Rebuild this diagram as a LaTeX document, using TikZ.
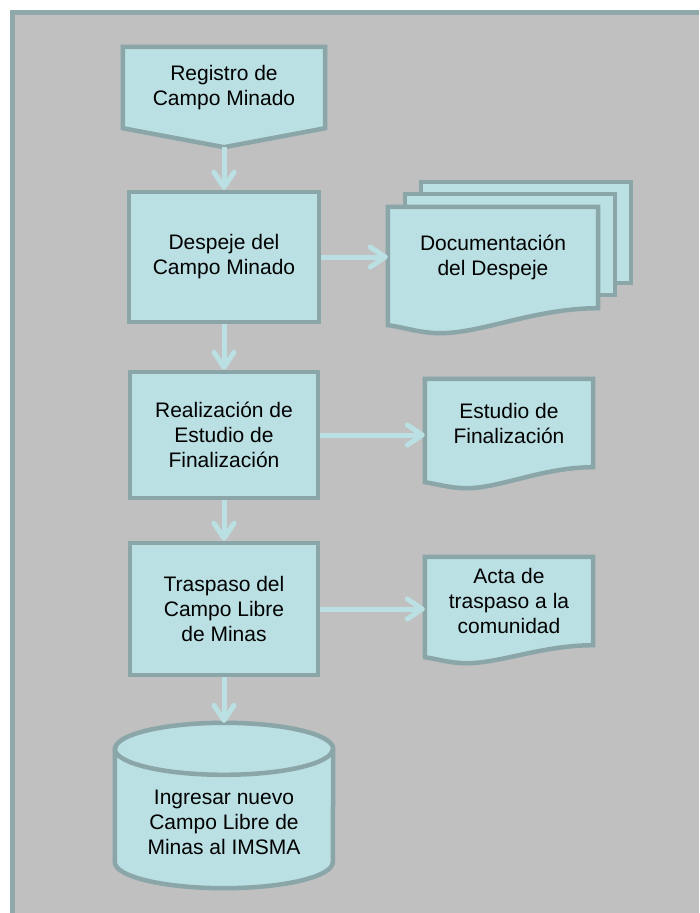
\documentclass[tikz,border=0pt]{standalone}
\usepackage{fontspec}
\setmainfont{Liberation Sans}
\usetikzlibrary{arrows.meta,backgrounds}

\definecolor{fondo}{HTML}{C0C0C0}
\definecolor{marco}{HTML}{8FA8AA}
\definecolor{borde}{HTML}{8BA6A8}
\definecolor{relleno}{HTML}{BAE0E3}

% hoja con borde ondulado: nodo, ancho, bajada minima, bajada izquierda
\newcommand{\hojadoc}[4]{%
	\filldraw[forma] (#1.north west) -- (#1.north east) -- (#1.south east)
		.. controls +({-0.3*#2},0) and +({0.2*#2},0) .. ([shift={({0.25*#2},-#3)}]#1.south west)
		.. controls +({-0.1*#2},0) and +({0.08*#2},-2) .. ([yshift=-#4pt]#1.south west) -- cycle;}

\begin{document}
\begin{tikzpicture}[x=1pt,y=1pt,
	caja/.style={draw=borde, fill=relleno, line width=4.5pt, align=center, inner sep=0pt,
		font=\fontsize{21}{25}\selectfont},
	texto/.style={align=center, inner sep=0pt, font=\fontsize{21}{25}\selectfont},
	forma/.style={draw=borde, fill=relleno, line width=4.5pt},
	flecha/.style={draw=relleno, line width=5pt, -{Straight Barb[length=15pt,width=20pt,round]}}]

	\useasboundingbox (0,0) rectangle (699,-913);

	% columna principal
	\node[texto, minimum width=202pt, minimum height=81pt] (registro) at (224,-87.5) {Registro de\\Campo Minado};
	\coordinate (puntaregistro) at ([yshift=-19pt]registro.south);
	\node[caja, minimum width=190pt, minimum height=130pt] (despeje) at (224,-257) {Despeje del\\Campo Minado};
	\node[caja, minimum width=188pt, minimum height=126pt] (realizacion) at (224,-435) {Realización de\\Estudio de\\Finalización};
	\node[caja, minimum width=188pt, minimum height=132pt] (traspaso) at (224,-609) {Traspaso del\\Campo Libre\\de Minas};
	\node[inner sep=0pt, minimum width=218pt, minimum height=165pt] (cilindro) at (224,-805.5) {};
	\node[texto] (ingreso) at (224,-822) {Ingresar nuevo\\Campo Libre de\\Minas al IMSMA};

	% documentos
	\node[texto, minimum width=210pt, minimum height=101pt] (documentacion) at (493,-257.5) {Documentación\\del Despeje};
	\node[texto, minimum width=168pt, minimum height=88pt] (estudio) at (509,-423) {Estudio de\\Finalización};
	\node[texto, minimum width=168pt, minimum height=88pt] (acta) at (509,-601) {Acta de\\traspaso a la\\comunidad};

	\begin{pgfonlayer}{background}
		\fill[fondo] (10,-10) rectangle (699,-913);
		\draw[marco, line width=5pt] (12.5,-913) -- (12.5,-12.5) -- (699,-12.5);

		\filldraw[forma] (registro.north west) -- (registro.north east) -- (registro.south east)
			-- (puntaregistro) -- (registro.south west) -- cycle;

		\filldraw[forma] ([shift={(33,25)}]documentacion.south west) rectangle ([shift={(33,25)}]documentacion.north east);
		\filldraw[forma] ([shift={(17,13)}]documentacion.south west) rectangle ([shift={(17,13)}]documentacion.north east);
		\hojadoc{documentacion}{210}{25}{17}
		\hojadoc{estudio}{168}{21}{15}
		\hojadoc{acta}{168}{18}{12}

		\filldraw[forma] ([yshift=-26pt]cilindro.north west) -- ([yshift=26pt]cilindro.south west)
			arc[start angle=180, end angle=360, x radius=109pt, y radius=26pt]
			-- ([yshift=-26pt]cilindro.north east)
			arc[start angle=0, end angle=180, x radius=109pt, y radius=26pt] -- cycle;
		\draw[forma, fill=none] ([yshift=-26pt]cilindro.north west)
			arc[start angle=180, end angle=360, x radius=109pt, y radius=26pt];
	\end{pgfonlayer}

	% flechas
	\draw[flecha] (puntaregistro) -- (despeje.north);
	\draw[flecha] (despeje.south) -- (realizacion.north);
	\draw[flecha] (realizacion.south) -- (traspaso.north);
	\draw[flecha] (traspaso.south) -- (cilindro.north);
	\draw[flecha] (despeje.east) -- (despeje.east -| documentacion.west);
	\draw[flecha] (realizacion.east) -- (realizacion.east -| estudio.west);
	\draw[flecha] (traspaso.east) -- (traspaso.east -| acta.west);
\end{tikzpicture}
\end{document}
